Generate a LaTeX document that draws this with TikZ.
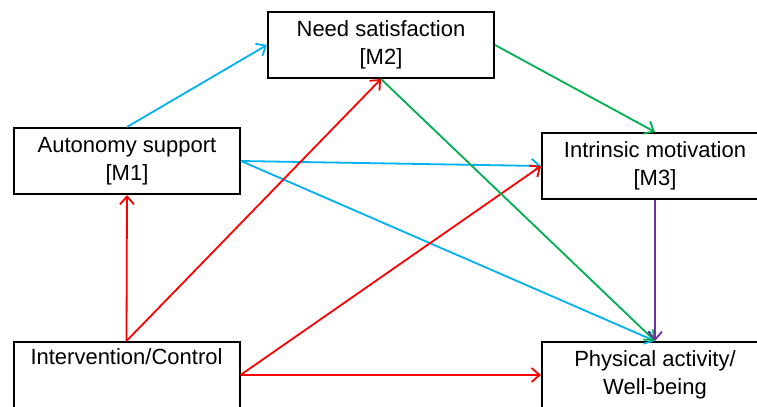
\documentclass[tikz,border=0pt]{standalone}
\usepackage{fontspec}
\setmainfont{Liberation Sans}
\usetikzlibrary{arrows.meta}

\definecolor{linkblue}{RGB}{0,176,240}
\definecolor{linkred}{RGB}{255,0,0}
\definecolor{linkgreen}{RGB}{0,176,80}
\definecolor{linkpurple}{RGB}{112,48,160}

\begin{document}
\begin{tikzpicture}[x=0.5pt, y=-0.5pt,
        varbox/.style={draw, rectangle, line width=1pt, minimum width=113pt, minimum height=33pt,
            inner sep=0pt, align=center, font=\fontsize{11}{14}\selectfont},
        link/.style={line width=0.9pt, -{Straight Barb[length=4pt, width=7pt]}}]
        \clip (0,0) rectangle (757,407);
        % variables
        \node[varbox] (need) at (381,45) {Need satisfaction\\{[M2]}};
        \node[varbox] (auto) at (127,161) {Autonomy support\\{[M1]}};
        \node[varbox] (intr) at (655,166) {Intrinsic motivation\\{[M3]}};
        \node[varbox] (inter) at (126.5,375) {Intervention/Control\\\strut};
        \node[varbox] (phys) at (655,375) {Physical activity/\\Well-being};
        % paths
        \draw[link, linkblue] (auto.north) -- (need.west);
        \draw[link, linkblue] (auto.east) -- (intr.west);
        \draw[link, linkblue] (auto.east) -- (phys.north);
        \draw[link, linkred] (inter.north) -- (auto.south);
        \draw[link, linkred] (inter.north) -- (need.south);
        \draw[link, linkred] (inter.east) -- (intr.west);
        \draw[link, linkred] (inter.east) -- (phys.west);
        \draw[link, linkgreen] (need.east) -- (intr.north);
        \draw[link, linkgreen] (need.south) -- (phys.north);
        \draw[link, linkpurple] (intr.south) -- (phys.north);
    \end{tikzpicture}
\end{document}
